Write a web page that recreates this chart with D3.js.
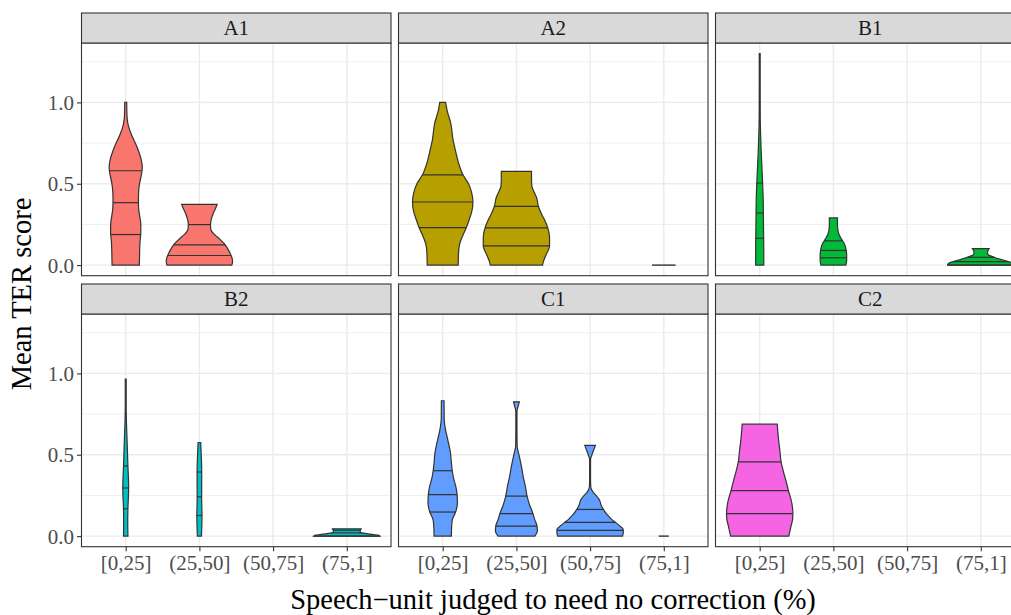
<!DOCTYPE html>
<html>
<head>
<meta charset="utf-8">
<script src="https://cdn.jsdelivr.net/npm/d3@7"></script>
<style>
  body { margin: 0; background: #fff; }
  text { font-family: "Liberation Serif", "DejaVu Serif", serif; }
</style>
</head>
<body>
<svg id="chart" width="1011" height="615"></svg>
<script>
// facet names and colours (ggplot hue palette)
var panels = ["A1", "A2", "B1", "B2", "C1", "C2"];
var fills = ["#F8766D", "#B79F00", "#00BA38", "#00BFC4", "#619CFF", "#F564E3"];
var categories = ["[0,25]", "(25,50]", "(50,75]", "(75,1]"];
var yTicks = [0, 0.5, 1.0];
var yMinor = [0.25, 0.75, 1.25];
var yDomain = [-0.065, 1.365];

// violins: profile = [value, full width as share of one category step]
var violinsA1 = [
  {cat: "[0,25]", q: [0.58, 0.384, 0.188], profile: [[1.0,0.027],[0.95,0.03],[0.9,0.04],[0.85,0.08],[0.8,0.16],[0.75,0.26],[0.7,0.35],[0.65,0.42],[0.6,0.45],[0.55,0.42],[0.5,0.375],[0.45,0.35],[0.4,0.345],[0.35,0.35],[0.3,0.38],[0.25,0.41],[0.2,0.41],[0.15,0.39],[0.1,0.38],[0.05,0.375],[0,0.37]]},
  {cat: "(25,50]", q: [0.249, 0.124, 0.059], profile: [[0.373,0.48],[0.35,0.44],[0.32,0.38],[0.28,0.32],[0.25,0.3],[0.22,0.31],[0.19,0.4],[0.16,0.55],[0.13,0.68],[0.1,0.77],[0.07,0.84],[0.04,0.89],[0.02,0.9],[0,0.88]]}
];
var violinsA2 = [
  {cat: "[0,25]", q: [0.555, 0.388, 0.231], profile: [[1.0,0.08],[0.95,0.12],[0.87,0.22],[0.77,0.28],[0.71,0.34],[0.627,0.43],[0.555,0.55],[0.5,0.7],[0.45,0.78],[0.39,0.82],[0.33,0.79],[0.28,0.72],[0.23,0.64],[0.19,0.56],[0.157,0.5],[0.12,0.45],[0.075,0.43],[0,0.42]]},
  {cat: "(25,50]", q: [0.361, 0.229, 0.118], profile: [[0.576,0.41],[0.52,0.41],[0.484,0.42],[0.45,0.48],[0.42,0.54],[0.36,0.6],[0.32,0.67],[0.28,0.76],[0.23,0.85],[0.17,0.9],[0.118,0.9],[0.08,0.84],[0.05,0.78],[0.02,0.73],[0,0.71]]},
  {cat: "(75,1]", q: [], profile: [[0,0.32]]}
];
var violinsB1 = [
  {cat: "[0,25]", q: [0.504, 0.32, 0.165], profile: [[1.3,0.012],[1.1,0.012],[0.9,0.015],[0.8,0.025],[0.7,0.04],[0.6,0.06],[0.5,0.08],[0.4,0.095],[0.3,0.1],[0.2,0.105],[0.1,0.11],[0,0.11]]},
  {cat: "(25,50]", q: [0.149, 0.09, 0.045], profile: [[0.29,0.11],[0.25,0.11],[0.218,0.12],[0.19,0.15],[0.16,0.22],[0.13,0.3],[0.1,0.34],[0.06,0.36],[0.03,0.36],[0,0.34]]},
  {cat: "(75,1]", q: [0.048, 0.022, 0.0], profile: [[0.102,0.23],[0.09,0.2],[0.075,0.18],[0.065,0.2],[0.057,0.26],[0.047,0.38],[0.037,0.52],[0.025,0.7],[0.013,0.86],[0.005,0.9],[0,0.9]]}
];
var violinsB2 = [
  {cat: "[0,25]", q: [0.431, 0.296, 0.168], profile: [[0.965,0.012],[0.8,0.012],[0.7,0.02],[0.6,0.035],[0.5,0.05],[0.43,0.06],[0.35,0.075],[0.3,0.08],[0.25,0.075],[0.17,0.06],[0.1,0.055],[0,0.06]]},
  {cat: "(25,50]", q: [0.394, 0.242, 0.127], profile: [[0.575,0.035],[0.5,0.05],[0.39,0.063],[0.3,0.062],[0.246,0.06],[0.18,0.065],[0.127,0.07],[0.06,0.065],[0,0.055]]},
  {cat: "(75,1]", q: [0.036, 0.02, 0.0], profile: [[0.045,0.39],[0.035,0.37],[0.025,0.36],[0.018,0.45],[0.012,0.65],[0.006,0.85],[0,0.9]]}
];
var violinsC1 = [
  {cat: "[0,25]", q: [0.402, 0.255, 0.148], profile: [[0.832,0.036],[0.72,0.04],[0.65,0.08],[0.595,0.135],[0.513,0.21],[0.45,0.235],[0.4,0.26],[0.35,0.3],[0.31,0.35],[0.255,0.39],[0.205,0.4],[0.148,0.35],[0.1,0.26],[0.05,0.24],[0,0.235]]},
  {cat: "(25,50]", q: [0.246, 0.138, 0.062], profile: [[0.825,0.08],[0.8,0.05],[0.775,0.02],[0.76,0.015],[0.65,0.015],[0.554,0.02],[0.5,0.07],[0.43,0.135],[0.36,0.19],[0.31,0.24],[0.246,0.29],[0.19,0.36],[0.144,0.44],[0.1,0.5],[0.062,0.56],[0.03,0.57],[0,0.5]]},
  {cat: "(50,75]", q: [0.164, 0.084, 0.035], profile: [[0.558,0.145],[0.53,0.1],[0.5,0.05],[0.475,0.015],[0.46,0.012],[0.35,0.012],[0.3,0.02],[0.27,0.08],[0.25,0.16],[0.226,0.245],[0.19,0.3],[0.164,0.36],[0.13,0.47],[0.1,0.6],[0.086,0.68],[0.06,0.82],[0.041,0.9],[0.02,0.9],[0,0.88]]},
  {cat: "(75,1]", q: [], profile: [[0,0.136]]}
];
var violinsC2 = [
  {cat: "[0,25]", q: [0.456, 0.279, 0.138], profile: [[0.688,0.475],[0.595,0.51],[0.52,0.55],[0.456,0.58],[0.4,0.64],[0.35,0.7],[0.28,0.78],[0.205,0.87],[0.138,0.9],[0.1,0.89],[0.062,0.85],[0.03,0.82],[0,0.79]]}
];
var violinSets = [violinsA1, violinsA2, violinsB1, violinsB2, violinsC1, violinsC2];

// layout
var panelW = 309.5, panelH = 232.7, stripH = 30;
var colLeft = [81.5, 398.5, 715.5];
var rowTop = [13, 284];
var dark = "#333333";

var svg = d3.select("#chart");

panels.forEach(function(name, i) {
    let col = i % 3, row = Math.floor(i / 3);
    let x0 = colLeft[col], top = rowTop[row] + stripH;

    let x = d3.scalePoint().domain(categories).range([x0, x0 + panelW]).padding(0.6);
    let y = d3.scaleLinear().domain(yDomain).range([top + panelH, top]);
    let g = svg.append("g");

    /* panel background + grid */
    g.append("rect").attr("x", x0).attr("y", top).attr("width", panelW).attr("height", panelH).attr("fill", "#fff");
    yMinor.forEach(function(v) {
        g.append("line").attr("x1", x0).attr("x2", x0 + panelW).attr("y1", y(v)).attr("y2", y(v))
            .attr("stroke", "#EBEBEB").attr("stroke-width", 0.8);
    });
    yTicks.forEach(function(v) {
        g.append("line").attr("x1", x0).attr("x2", x0 + panelW).attr("y1", y(v)).attr("y2", y(v))
            .attr("stroke", "#EBEBEB").attr("stroke-width", 1.4);
    });
    categories.forEach(function(c) {
        g.append("line").attr("x1", x(c)).attr("x2", x(c)).attr("y1", top).attr("y2", top + panelH)
            .attr("stroke", "#EBEBEB").attr("stroke-width", 1.4);
    });

    /* violins */
    let step = x.step();
    violinSets[i].forEach(function(v) {
        let cx = x(v.cat);
        if (v.profile.length == 1) { // all values equal -> flat line
            let w = v.profile[0][1] * step / 2;
            g.append("line").attr("x1", cx - w).attr("x2", cx + w)
                .attr("y1", y(v.profile[0][0])).attr("y2", y(v.profile[0][0]))
                .attr("stroke", dark).attr("stroke-width", 1.4);
            return;
        }
        let area = d3.area()
            .y(function(d) { return y(d[0]); })
            .x0(function(d) { return cx - d[1] * step / 2; })
            .x1(function(d) { return cx + d[1] * step / 2; })
            .curve(d3.curveMonotoneY);
        g.append("path").attr("d", area(v.profile))
            .attr("fill", fills[i]).attr("stroke", dark).attr("stroke-width", 1.2);
        let widthAt = d3.scaleLinear().domain(v.profile.map(d => d[0])).range(v.profile.map(d => d[1]));
        v.q.forEach(function(qv) {
            let w = widthAt(qv) * step / 2;
            g.append("line").attr("x1", cx - w).attr("x2", cx + w).attr("y1", y(qv)).attr("y2", y(qv))
                .attr("stroke", dark).attr("stroke-width", 1.2);
        });
    });

    /* panel border */
    g.append("rect").attr("x", x0).attr("y", top).attr("width", panelW).attr("height", panelH)
        .attr("fill", "none").attr("stroke", dark).attr("stroke-width", 1.1);

    /* strip */
    g.append("rect").attr("x", x0).attr("y", rowTop[row]).attr("width", panelW).attr("height", stripH)
        .attr("fill", "#D9D9D9").attr("stroke", dark).attr("stroke-width", 1.1);
    g.append("text").attr("x", x0 + panelW / 2).attr("y", rowTop[row] + stripH / 2 + 7)
        .attr("text-anchor", "middle").attr("font-size", 21).attr("fill", "#1A1A1A").text(name);

    /* y axis on the left column */
    if (col == 0) {
        let ay = g.append("g").attr("transform", "translate(" + x0 + ",0)")
            .call(d3.axisLeft(y).tickValues(yTicks).tickFormat(d3.format(".1f")).tickSize(4.5).tickPadding(3));
        ay.select(".domain").remove();
        ay.selectAll("line").attr("stroke", dark).attr("stroke-width", 1.1);
        ay.selectAll("text").attr("font-size", 21).attr("fill", "#4D4D4D")
            .attr("font-family", "Liberation Serif").attr("dy", "0.34em");
    }
    /* x axis on the bottom row */
    if (row == 1) {
        let ax = g.append("g").attr("transform", "translate(0," + (top + panelH) + ")")
            .call(d3.axisBottom(x).tickSize(4.5).tickPadding(4));
        ax.select(".domain").remove();
        ax.selectAll("line").attr("stroke", dark).attr("stroke-width", 1.1);
        ax.selectAll("text").attr("font-size", 21).attr("fill", "#4D4D4D")
            .attr("font-family", "Liberation Serif");
    }
});

/* axis titles */
svg.append("text").attr("x", 553).attr("y", 609).attr("text-anchor", "middle")
    .attr("font-size", 28.5).attr("fill", "#000").text("Speech\u2212unit judged to need no correction (%)");
svg.append("text").attr("transform", "translate(31,294) rotate(-90)").attr("text-anchor", "middle")
    .attr("font-size", 28.5).attr("fill", "#000").text("Mean TER score");
</script>
</body>
</html>
